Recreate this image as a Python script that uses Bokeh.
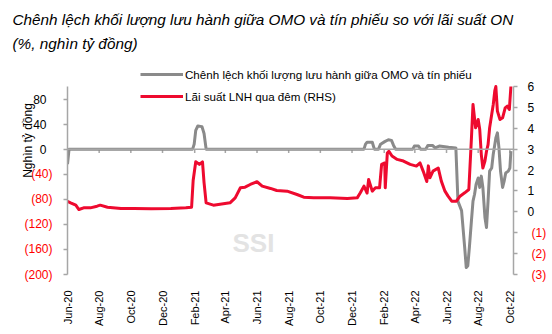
import pandas as pd
from math import pi
from bokeh.plotting import figure
from bokeh.models import (Range1d, LinearAxis, FixedTicker, DatetimeTickFormatter,
                          Label, Legend, LegendItem, Span, Title)
from bokeh.embed import file_html
from bokeh.resources import INLINE

# Outstanding OMO minus T-bill balance (thousand bn VND, left axis)
spread_dates = ["2020-06-01", "2020-06-04", "2021-01-28", "2021-01-31", "2021-02-03", "2021-02-07",
                "2021-02-15", "2021-02-19", "2021-02-23", "2021-12-24", "2021-12-27", "2021-12-30",
                "2022-01-09", "2022-01-13", "2022-01-21", "2022-01-25", "2022-02-02", "2022-02-09",
                "2022-02-15", "2022-02-19", "2022-02-23", "2022-03-28", "2022-03-31", "2022-04-08",
                "2022-04-12", "2022-04-22", "2022-04-26", "2022-05-05", "2022-05-10", "2022-05-18",
                "2022-06-05", "2022-06-19", "2022-06-23", "2022-06-30", "2022-07-06", "2022-07-09",
                "2022-07-12", "2022-07-15", "2022-07-19", "2022-07-22", "2022-07-25", "2022-07-28",
                "2022-08-01", "2022-08-04", "2022-08-07", "2022-08-10", "2022-08-14", "2022-08-17",
                "2022-08-20", "2022-08-23", "2022-08-27", "2022-08-30", "2022-09-04", "2022-09-07",
                "2022-09-10", "2022-09-13", "2022-09-17", "2022-09-20", "2022-09-23", "2022-09-28",
                "2022-10-01", "2022-10-03"]
spread_vals = [-24, 0, 0, 8, 30, 37,
               36, 25, 0, 0, 8, 11,
               11, 0, 0, 8, 12, 15,
               14, 6, 0, 0, 5, 5,
               0, 0, 6, 6, 2, 5,
               3, 2, -83, -98, -157, -189,
               -186, -157, -114, -83, -72, -56,
               -46, -61, -43, -61, -109, -125,
               -83, -35, -30, -8, 18, 26,
               2, -35, -61, -51, -38, -35,
               -30, -3]

# Overnight interbank rate (%, right axis)
on_dates = ["2020-06-01", "2020-06-07", "2020-06-17", "2020-06-23", "2020-07-02", "2020-07-15",
            "2020-07-28", "2020-08-03", "2020-08-17", "2020-09-12", "2020-10-07", "2020-11-09",
            "2020-12-17", "2021-01-15", "2021-01-26", "2021-01-29", "2021-02-03", "2021-02-10",
            "2021-02-16", "2021-02-19", "2021-02-23", "2021-03-09", "2021-04-10", "2021-04-20",
            "2021-04-30", "2021-05-09", "2021-05-19", "2021-06-01", "2021-06-11", "2021-06-27",
            "2021-07-09", "2021-07-29", "2021-08-17", "2021-08-30", "2021-09-18", "2021-10-20",
            "2021-11-22", "2021-12-11", "2021-12-17", "2021-12-24", "2021-12-30", "2022-01-02",
            "2022-01-09", "2022-01-15", "2022-01-23", "2022-01-27", "2022-02-02", "2022-02-03",
            "2022-02-07", "2022-02-10", "2022-02-16", "2022-02-26", "2022-03-10", "2022-03-23",
            "2022-04-04", "2022-04-11", "2022-04-17", "2022-04-24", "2022-04-27", "2022-04-30",
            "2022-05-06", "2022-05-16", "2022-05-22", "2022-05-29", "2022-06-04", "2022-06-11",
            "2022-06-20", "2022-06-27", "2022-07-06", "2022-07-14", "2022-07-19", "2022-07-22",
            "2022-07-27", "2022-08-01", "2022-08-04", "2022-08-07", "2022-08-10", "2022-08-14",
            "2022-08-17", "2022-08-20", "2022-08-23", "2022-08-27", "2022-08-30", "2022-09-02",
            "2022-09-04", "2022-09-07", "2022-09-12", "2022-09-17", "2022-09-22", "2022-09-26",
            "2022-09-30", "2022-10-03"]
on_vals = [0.50, 0.43, 0.32, 0.11, 0.19, 0.19,
           0.27, 0.32, 0.22, 0.16, 0.16, 0.15,
           0.16, 0.19, 0.22, 1.50, 2.40, 2.27,
           2.39, 1.40, 0.43, 0.32, 0.43, 0.67,
           1.15, 1.18, 1.31, 1.44, 1.23, 1.12,
           1.02, 0.99, 0.83, 0.70, 0.67, 0.67,
           0.64, 0.67, 0.91, 1.23, 0.90, 1.55,
           0.99, 1.15, 1.15, 2.27, 2.34, 1.15,
           2.82, 2.90, 2.67, 2.51, 2.43, 2.27,
           2.19, 2.34, 1.95, 1.45, 2.20, 1.63,
           1.95, 2.10, 1.47, 0.99, 0.75, 0.51,
           0.51, 0.75, 0.91, 1.07, 3.54, 5.14,
           4.02, 4.42, 3.94, 2.74, 2.10, 2.43,
           2.90, 3.22, 4.02, 4.66, 5.14, 5.80,
           6.00, 4.82, 4.42, 4.50, 4.98, 5.06,
           4.90, 6.00]

month_ticks = ["2020-06-01", "2020-08-01", "2020-10-01", "2020-12-01", "2021-02-01", "2021-04-01",
               "2021-06-01", "2021-08-01", "2021-10-01", "2021-12-01", "2022-02-01", "2022-04-01",
               "2022-06-01", "2022-08-01", "2022-10-01"]
left_ticks = [80, 40, 0, -40, -80, -120, -160, -200]
right_ticks = [6, 5, 4, 3, 2, 1, 0, -1, -2, -3]

title_lines = ["Chênh lệch khối lượng lưu hành giữa OMO và tín phiếu so với lãi suất ON",
               "(%, nghìn tỷ đồng)"]
spread_name = "Chênh lệch khối lượng lưu hành giữa OMO và tín phiếu"
on_name = "Lãi suất LNH qua đêm (RHS)"
left_unit = "Nghìn tỷ đồng"

FONT = "Liberation Sans"
GREY = "#8a8a8a"
AXIS_GREY = "#a6a6a6"
RED = "#ee0a2f"
NEG_RED = "#ff0000"


def paren(v):
    return f"({abs(v)})"


p = figure(width=552, height=334, x_axis_type="datetime", title=None,
           output_backend="svg", toolbar_location=None,
           x_range=Range1d(pd.Timestamp("2020-06-01"), pd.Timestamp("2022-10-08")),
           y_range=Range1d(-200, 147.9),
           min_border_left=67, min_border_right=39, min_border_top=56, min_border_bottom=60)
p.extra_y_ranges = {"rhs": Range1d(-3, 7.436)}
p.outline_line_color = None
p.xgrid.visible = False
p.ygrid.visible = False
p.background_fill_color = "white"

# Bottom axis: only the rotated month labels
tick_ms = [pd.Timestamp(d).value // 10**6 for d in month_ticks]
p.xaxis.ticker = FixedTicker(ticks=tick_ms)
fmt = "%b-%y"
p.xaxis.formatter = DatetimeTickFormatter(days=fmt, months=fmt, years=fmt)
p.xaxis.axis_line_color = None
p.xaxis.major_tick_line_color = None
p.xaxis.minor_tick_line_color = None
p.xaxis.major_label_orientation = pi / 2
p.xaxis.major_label_standoff = 10
p.xaxis.major_label_text_font = FONT
p.xaxis.major_label_text_font_size = "11px"
p.xaxis.major_label_text_color = "black"


def style_axis(ax, labels, color, standoff, with_line):
    ax.major_label_overrides = labels
    ax.minor_tick_line_color = None
    ax.major_tick_in = 0
    if with_line:
        ax.axis_line_color = AXIS_GREY
        ax.axis_line_width = 1.5
        ax.major_tick_line_color = AXIS_GREY
        ax.major_tick_line_width = 1.5
        ax.major_tick_out = 4
    else:
        ax.axis_line_color = None
        ax.major_tick_line_color = None
        ax.major_tick_out = 0
    ax.major_label_standoff = standoff
    ax.major_label_text_font = FONT
    ax.major_label_text_font_size = "12px"
    ax.major_label_text_color = color


# Left side: the inner axis carries the line, ticks and red negative labels,
# the outer one the black non-negative labels and the unit
ly = p.yaxis[0]
ly.ticker = FixedTicker(ticks=left_ticks)
ly.bounds = (-200, 100)
style_axis(ly, {v: (paren(v) if v < 0 else "") for v in left_ticks}, NEG_RED, 11, True)

ly2 = LinearAxis(ticker=FixedTicker(ticks=left_ticks))
style_axis(ly2, {v: ("" if v < 0 else str(v)) for v in left_ticks}, "black", -25, False)
# non-breaking spaces lift the unit text towards the upper part of the axis
ly2.axis_label = "\u00a0" * 15 + left_unit
ly2.axis_label_text_font = FONT
ly2.axis_label_text_font_style = "normal"
ly2.axis_label_text_font_size = "12px"
ly2.axis_label_text_color = "black"
ly2.axis_label_standoff = -5
p.add_layout(ly2, "left")

# Right side (overnight rate)
ry = LinearAxis(y_range_name="rhs", ticker=FixedTicker(ticks=right_ticks), bounds=(-3, 6))
style_axis(ry, {v: ("" if v < 0 else str(v)) for v in right_ticks}, "black", 10, True)
p.add_layout(ry, "right")
ry2 = LinearAxis(y_range_name="rhs", ticker=FixedTicker(ticks=right_ticks))
style_axis(ry2, {v: (paren(v) if v < 0 else "") for v in right_ticks}, NEG_RED, -6, False)
p.add_layout(ry2, "right")

# Zero line acting as the category axis, with its tick marks
p.add_layout(Span(location=0, dimension="width", line_color=AXIS_GREY, line_width=1.5))
tick_dt = [pd.Timestamp(d) for d in month_ticks]
p.segment(x0=tick_dt, y0=[0] * len(tick_dt), x1=tick_dt, y1=[-6] * len(tick_dt),
          line_color=AXIS_GREY, line_width=1.5)

# Watermark
p.add_layout(Label(x=165, y=17, x_units="screen", y_units="screen", text="SSI",
                   text_font=FONT, text_font_style="bold", text_font_size="26px",
                   text_color="#e3e3e3"))

g = p.line([pd.Timestamp(d) for d in spread_dates], spread_vals,
           line_color=GREY, line_width=3, line_join="round")
r = p.line([pd.Timestamp(d) for d in on_dates], on_vals, y_range_name="rhs",
           line_color=RED, line_width=3, line_join="round")

legend = Legend(items=[LegendItem(label=spread_name, renderers=[g]),
                       LegendItem(label=on_name, renderers=[r])],
                location=(73, 168), border_line_color=None, background_fill_alpha=0,
                padding=0, margin=0, spacing=2, glyph_width=43, glyph_height=20,
                label_height=20, label_standoff=2, label_text_font=FONT,
                label_text_font_size="11.6px", label_text_color="black")
p.add_layout(legend)

# Two-line italic heading, second line nearest the plot
p.add_layout(Title(text=title_lines[1], align="left", offset=-55, standoff=10,
                   text_font=FONT, text_font_style="italic", text_font_size="15.3px",
                   text_color="black"), "above")
p.add_layout(Title(text=title_lines[0], align="left", offset=-55, standoff=0,
                   text_font=FONT, text_font_style="italic", text_font_size="15.3px",
                   text_color="black"), "above")

open("out.html", "w").write(file_html(p, INLINE))
